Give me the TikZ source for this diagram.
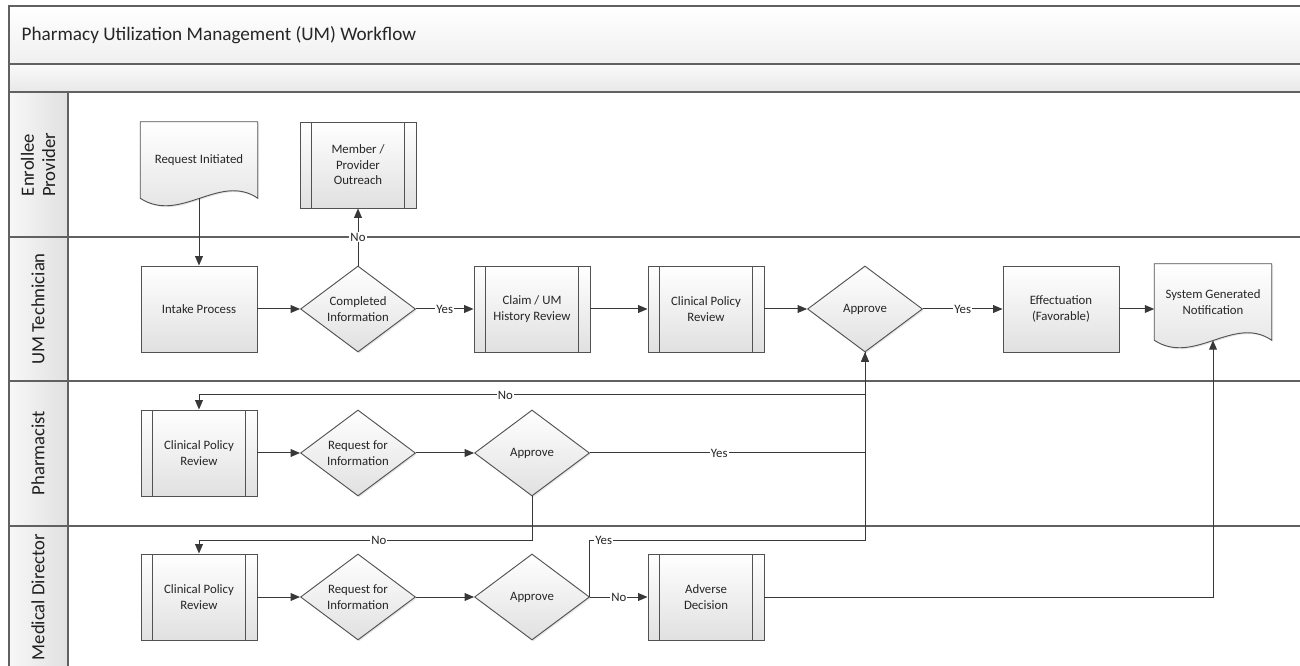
\documentclass[tikz,border=0pt]{standalone}
\usepackage{fontspec}
\setmainfont{Carlito}
\usepackage{tikz}
\usetikzlibrary{shapes.geometric, arrows.meta, calc, shadows, backgrounds}

\newcommand{\nodefont}{\fontsize{9.6}{11.6}\selectfont}
\newcommand{\lanefont}{\fontsize{14}{16}\selectfont}
\newcommand{\titlefont}{\fontsize{14.4}{17}\selectfont}
% document outline with a wavy bottom, drawn behind the named node
\newcommand{\docoutline}[1]{%
  \begin{scope}[on background layer]
    \draw [shapefill] (#1.north west) -- (#1.north east) -- (#1.south east) .. controls ($(#1.south east)+(-38,-26)$) and ($(#1.south west)+(40,26)$) .. (#1.south west) -- cycle ;
  \end{scope}}

\begin{document}
\begin{tikzpicture}[x=0.75pt,y=0.75pt,yscale=-1,xscale=1,
  shapefill/.style={draw=black!68, line width=0.7pt, top color=white, bottom color=black!12, drop shadow={opacity=0.2, shadow xshift=1pt, shadow yshift=-1pt}},
  proc/.style={shapefill, rectangle, minimum width=87pt, minimum height=64.5pt, inner sep=0pt, align=center, text=black!85, font=\nodefont},
  subproc/.style={proc, path picture={\draw [black!68, line width=0.7pt] ([xshift=8.5pt]path picture bounding box.north west) -- ([xshift=8.5pt]path picture bounding box.south west) ([xshift=-8.5pt]path picture bounding box.north east) -- ([xshift=-8.5pt]path picture bounding box.south east) ;}},
  decision/.style={shapefill, diamond, minimum width=86.25pt, minimum height=64.5pt, aspect=1.34, inner sep=0pt, align=center, text=black!85, font=\nodefont},
  docnode/.style={rectangle, minimum width=87.75pt, minimum height=57pt, inner sep=0pt, align=center, text=black!85, font=\nodefont},
  flow/.style={draw=black!78, line width=0.75pt, -{Triangle[length=7pt, width=5.8pt]}},
  wire/.style={draw=black!78, line width=0.75pt},
  lbl/.style={fill=white, inner sep=0.8pt, text=black!85, font=\nodefont},
  lane/.style={draw=black!62, line width=0.8pt},
  lanetext/.style={rotate=90, align=center, text=black!88, font=\lanefont}]
\useasboundingbox (0,0) rectangle (1300,666);

%Shape: Pool bands
\fill [top color=white, bottom color=black!6] (9,6) rectangle (1300,64) ;
\fill [top color=black!2, bottom color=black!9] (9,64) rectangle (1300,92) ;
\fill [left color=black!3, right color=black!12] (9,92) rectangle (68,666) ;
%Straight Lines: pool frame and lanes
\draw [lane] (9,666) -- (9,6) -- (1300,6) ;
\draw [lane] (9,64) -- (1300,64) ;
\draw [lane] (9,92) -- (1300,92) ;
\draw [lane] (9,237) -- (1300,237) ;
\draw [lane] (9,381) -- (1300,381) ;
\draw [lane] (9,526) -- (1300,526) ;
\draw [lane] (68,92) -- (68,666) ;

% Text Node
\draw (17,35) node [anchor=west, text=black!85, font=\titlefont] (title) {Pharmacy Utilization Management (UM) Workflow};
% Text Node
\draw (38,165) node [lanetext] (lnenrol) {Enrollee\\Provider};
\draw (38,309) node [lanetext] (lnumtech) {UM Technician};
\draw (38,453) node [lanetext] (lnpharm) {Pharmacist};
\draw (38,597) node [lanetext] (lnmd) {Medical Director};

%Shape: Enrollee / Provider lane
\draw (199,160) node [docnode] (req) {Request Initiated};
\docoutline{req}
\draw (358,165) node [subproc] (outreach) {Member /\\Provider\\Outreach};

%Shape: UM Technician lane
\draw (199,309) node [proc] (intake) {Intake Process};
\draw (358,309) node [decision] (compl) {Completed\\Information};
\draw (532,309) node [subproc] (claim) {Claim / UM\\History Review};
\draw (706,309) node [subproc] (ucpr) {Clinical Policy\\Review};
\draw (865,309) node [decision] (uappr) {Approve};
\draw (1061,309) node [proc] (effect) {Effectuation\\(Favorable)};
\draw (1213,302) node [docnode] (notif) {System Generated\\Notification};
\docoutline{notif}

%Shape: Pharmacist lane
\draw (199,453) node [subproc] (pcpr) {Clinical Policy\\Review};
\draw (358,453) node [decision] (preq) {Request for\\Information};
\draw (532,453) node [decision] (pappr) {Approve};

%Shape: Medical Director lane
\draw (199,597) node [subproc] (mcpr) {Clinical Policy\\Review};
\draw (358,597) node [decision] (mreq) {Request for\\Information};
\draw (532,597) node [decision] (mappr) {Approve};
\draw (706,597) node [subproc] (adverse) {Adverse\\Decision};

\coordinate (umno) at (865,395) ;
\coordinate (mdrow) at (0,540) ;

%Straight Lines
\draw [flow] (req) -- (intake) ;
\draw [flow] (intake) -- (compl) ;
\draw [flow] (compl) -- node [lbl] {No} (outreach) ;
\draw [flow] (compl) -- node [lbl] {Yes} (claim) ;
\draw [flow] (claim) -- (ucpr) ;
\draw [flow] (ucpr) -- (uappr) ;
\draw [flow] (uappr) -- node [lbl] {Yes} (effect) ;
\draw [flow] (effect.east) -- (effect.east -| notif.west) ;
\draw [wire] (uappr.south) -- (umno) ;
\draw [flow] (umno) -- node [lbl, pos=0.54] {No} (umno -| pcpr.north) -- (pcpr.north) ;
\draw [flow] (pcpr) -- (preq) ;
\draw [flow] (preq) -- (pappr) ;
\draw [flow] (pappr.east) -- node [lbl, pos=0.47] {Yes} (pappr.east -| uappr.south) -- (uappr.south) ;
\draw [flow] (pappr.south) -- (pappr.south |- mdrow) -- node [lbl, pos=0.46] {No} (mdrow -| mcpr.north) -- (mcpr.north) ;
\draw [flow] (mcpr) -- (mreq) ;
\draw [flow] (mreq) -- (mappr) ;
\draw [flow] (mappr.east) -- (mappr.east |- mdrow) -- node [lbl, pos=0.05] {Yes} (mdrow -| uappr.south) -- (uappr.south) ;
\draw [flow] (mappr) -- node [lbl] {No} (adverse) ;
\draw [flow] (adverse.east) -| (notif.south) ;

\end{tikzpicture}
\end{document}
